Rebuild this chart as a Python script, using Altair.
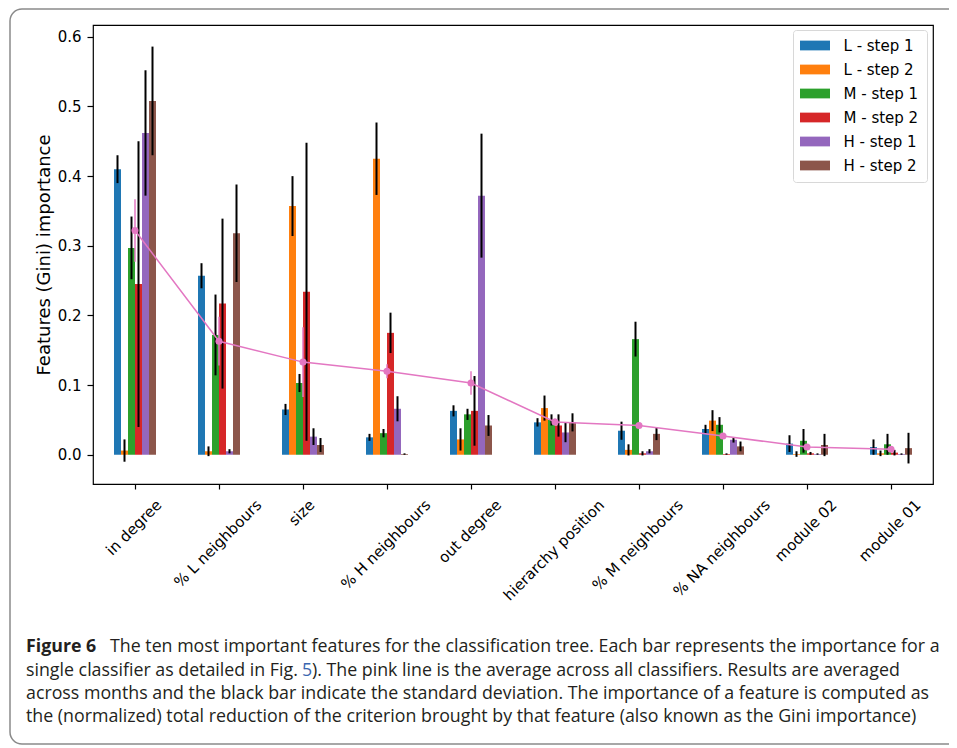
import altair as alt
import pandas as pd

features = ["in degree", "% L neighbours", "size", "% H neighbours", "out degree",
            "hierarchy position", "% M neighbours", "% NA neighbours", "module 02", "module 01"]
series = ["L - step 1", "L - step 2", "M - step 1", "M - step 2", "H - step 1", "H - step 2"]
colors = ["#1f77b4", "#ff7f0e", "#2ca02c", "#d62728", "#9467bd", "#8c564b"]

l1 = [0.410, 0.257, 0.065, 0.025, 0.063, 0.0465, 0.0345, 0.037, 0.016, 0.011]
l1_err = [0.020, 0.018, 0.008, 0.005, 0.008, 0.006, 0.013, 0.006, 0.012, 0.011]
l2 = [0.006, 0.005, 0.357, 0.425, 0.022, 0.067, 0.007, 0.049, 0.001, 0.002]
l2_err = [0.016, 0.007, 0.043, 0.052, 0.016, 0.018, 0.008, 0.015, 0.004, 0.004]
m1 = [0.297, 0.172, 0.103, 0.031, 0.058, 0.050, 0.166, 0.043, 0.020, 0.015]
m1_err = [0.045, 0.058, 0.013, 0.006, 0.008, 0.008, 0.025, 0.011, 0.017, 0.015]
m2 = [0.245, 0.217, 0.234, 0.175, 0.063, 0.042, 0.002, 0.001, 0.002, 0.003]
m2_err = [0.205, 0.122, 0.214, 0.029, 0.050, 0.016, 0.003, 0.001, 0.002, 0.004]
h1 = [0.462, 0.005, 0.026, 0.066, 0.372, 0.032, 0.005, 0.0215, 0.001, 0.001]
h1_err = [0.090, 0.003, 0.012, 0.018, 0.089, 0.014, 0.003, 0.004, 0.001, 0.001]
h2 = [0.508, 0.318, 0.014, 0.001, 0.042, 0.0465, 0.030, 0.012, 0.014, 0.0095]
h2_err = [0.078, 0.070, 0.010, 0.001, 0.015, 0.013, 0.009, 0.007, 0.016, 0.022]
avg = [0.322, 0.163, 0.133, 0.120, 0.103, 0.047, 0.042, 0.027, 0.011, 0.008]
avg_err = [0.045, 0.035, 0.050, 0.010, 0.017, 0.005, 0.003, 0.003, 0.002, 0.002]

caption_lines = [
    "The ten most important features for the classification tree. Each bar represents the importance for a",
    "single classifier as detailed in Fig.",
    "). The pink line is the average across all classifiers. Results are averaged",
    "across months and the black bar indicate the standard deviation. The importance of a feature is computed as",
    "the (normalized) total reduction of the criterion brought by that feature (also known as the Gini importance)",
]

vals = [l1, l2, m1, m2, h1, h2]
errs = [l1_err, l2_err, m1_err, m2_err, h1_err, h2_err]
rows = []
for s, v, e in zip(series, vals, errs):
    for f, vi, ei in zip(features, v, e):
        rows.append({"feature": f, "series": s, "value": vi, "lo": vi - ei, "hi": vi + ei})
df = pd.DataFrame(rows)
avg_df = pd.DataFrame({"feature": features, "avg": avg,
                       "lo": [a - e for a, e in zip(avg, avg_err)],
                       "hi": [a + e for a, e in zip(avg, avg_err)]})
one = pd.DataFrame({"k": [0]})

W, H = 840, 459
PINK = "#e377c2"
FS = 15

# DejaVu Sans advance widths (units of 2048) to mimic matplotlib's centred rotated labels
dv = {' ': 651, '%': 1946, '0': 1303, '1': 1303, '2': 1303, 'A': 1401, 'H': 1540, 'L': 1141,
      'M': 1767, 'N': 1532, 'a': 1255, 'b': 1300, 'c': 1126, 'd': 1300, 'e': 1260, 'g': 1300,
      'h': 1298, 'i': 569, 'l': 569, 'm': 1995, 'n': 1298, 'o': 1253, 'p': 1300, 'r': 842,
      's': 1067, 't': 803, 'u': 1298, 'y': 1212, 'z': 1075}
conds = []
for f in features:
    L = sum(dv.get(c, 1200) for c in f) / 2048 * FS
    off = 0.3536 * (L - 1.16 * FS)
    conds.append({"test": "datum.value === '%s'" % f, "value": round(off, 1)})

xscale = alt.Scale(domain=features, paddingInner=0.5, paddingOuter=0.25)
yscale = alt.Scale(domain=[-0.042, 0.617], nice=False, zero=False)
xaxis = alt.Axis(labelAngle=-45, labelAlign="right", labelBaseline="top",
                 labelOffset={"condition": conds, "value": 0},
                 labelPadding=8, tickSize=5, labelOverlap=False, labelBound=False,
                 labelFlush=False, domain=False, title=None)
yaxis = alt.Axis(values=[0, 0.1, 0.2, 0.3, 0.4, 0.5, 0.6], format=".1f", tickSize=6,
                 labelPadding=6, domain=False, grid=False, titlePadding=4, titleFontSize=18)
YT = "Features (Gini) importance"

X = alt.X("feature:N", scale=xscale, axis=xaxis, title=None)
XO = alt.XOffset("series:N", scale=alt.Scale(domain=series))

legend = alt.Legend(orient="none", legendX=700, legendY=5, title=None,
                    symbolType="M-2,-0.65H2V0.65H-2Z", symbolSize=225, symbolStrokeWidth=0,
                    symbolOffset=6.5,
                    labelFont="DejaVu Sans", labelFontSize=FS, labelColor="black",
                    strokeColor="#d8d8d8", fillColor="white", cornerRadius=3,
                    padding=8, rowPadding=8, labelOffset=21)

bars = alt.Chart(df).mark_bar().encode(
    x=X, xOffset=XO,
    y=alt.Y("value:Q", scale=yscale, axis=yaxis, title=YT),
    y2=alt.datum(0),
    color=alt.Color("series:N", scale=alt.Scale(domain=series, range=colors), legend=legend),
)
err_rules = alt.Chart(df).mark_rule(color="black", strokeWidth=2).encode(
    x=X, xOffset=XO,
    y=alt.Y("lo:Q", scale=yscale, axis=yaxis, title=YT),
    y2="hi:Q",
)
avg_line = alt.Chart(avg_df).mark_line(color=PINK, strokeWidth=1.5).encode(
    x=X, y=alt.Y("avg:Q", scale=yscale, axis=yaxis, title=YT))
avg_pts = alt.Chart(avg_df).mark_point(color=PINK, filled=True, size=50, opacity=1).encode(
    x=X, y=alt.Y("avg:Q", scale=yscale, axis=yaxis, title=YT))
avg_err_rules = alt.Chart(avg_df).mark_rule(color=PINK, strokeWidth=1.5).encode(
    x=X, y=alt.Y("lo:Q", scale=yscale, axis=yaxis, title=YT), y2="hi:Q")

frame = alt.Chart(one).mark_rect(fill="white", fillOpacity=0, stroke="#8a8a8a",
                                 strokeWidth=1.5, cornerRadius=12).encode(
    x=alt.value(-83), x2=alt.value(900), y=alt.value(-16), y2=alt.value(719))

CAP_FONT = "Open Sans"
CAP_FS = 17.8
CAP_COL = "#231f20"


def txt(s, x, y, weight="normal", color=CAP_COL):
    return alt.Chart(one).mark_text(text=s, align="left", baseline="alphabetic",
                                    font=CAP_FONT, fontSize=CAP_FS, fontWeight=weight,
                                    color=color).encode(x=alt.value(x), y=alt.value(y))


caps = [
    txt("Figure 6", -67, 627, weight="bold"),
    txt(caption_lines[0], 17, 627),
    txt(caption_lines[1], -67, 650.5),
    txt("5", 209, 650.5, color="#3a66b0"),
    txt(caption_lines[2], 219, 650.5),
    txt(caption_lines[3], -67, 674),
    txt(caption_lines[4], -67, 697),
]

chart = alt.layer(frame, bars, err_rules, avg_line, avg_err_rules, avg_pts, *caps).properties(
    width=W, height=H,
    autosize=alt.AutoSizeParams(type="none"),
    padding={"left": 85, "top": 17, "right": 16, "bottom": 262},
    background="white",
).configure_view(stroke="black", strokeWidth=1.2).configure_axis(
    labelFont="DejaVu Sans", labelFontSize=FS, labelColor="black",
    titleFont="DejaVu Sans", titleFontWeight="normal", titleColor="black",
    tickColor="black", tickWidth=1.2,
)

chart.save("out.html", embed_options={"renderer": "svg", "actions": False})
